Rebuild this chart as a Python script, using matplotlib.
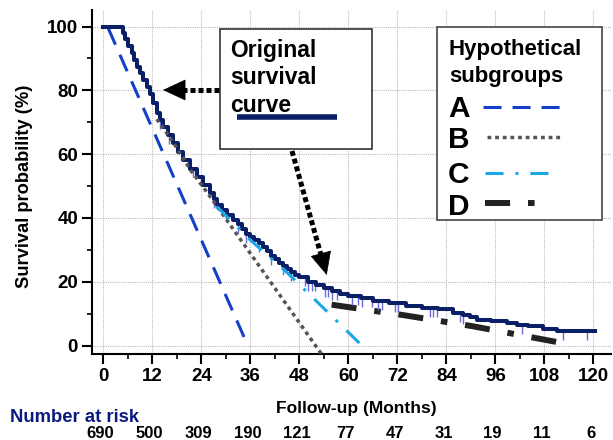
import numpy as np
import matplotlib
matplotlib.use("Agg")
import matplotlib.pyplot as plt
from matplotlib.lines import Line2D
from matplotlib.patches import Rectangle
from matplotlib.transforms import blended_transform_factory

plt.rcParams['font.family'] = ['Liberation Sans', 'DejaVu Sans']
plt.rcParams['font.weight'] = 'bold'

W, H = 613, 440

# Kaplan-Meier curve (months, survival %)
km_t = [0, 4.1, 4.7, 5.3, 6.1, 7, 7.6, 8.2, 9, 9.8, 10.6, 11.4, 12.2, 13.1, 13.9, 14.7,
        15.9, 17.1, 18.3, 19.6, 21.2, 22.9, 24.5, 26.1, 27, 27.8, 29, 30.3, 31.8, 33,
        34, 35, 36, 37, 38, 39, 40, 41, 42, 43, 44, 45, 46, 47, 48, 50, 52, 54, 56,
        58, 60, 63, 66, 70, 74, 78, 82, 85.6, 88, 89.8, 91.5, 95, 98.8, 101.2, 104,
        107.7, 111, 120.5]
km_s = [100, 100, 98, 96, 94, 91.6, 89.5, 87.4, 85.3, 83.2, 81, 79, 76, 72.8, 70.7,
        68.6, 66, 63.4, 60.8, 58.2, 55.5, 52.9, 50.3, 47.7, 45.8, 44, 42.5, 41, 39.5,
        38, 36.5, 35, 34, 33, 32, 30.8, 29.5, 28.2, 27, 26, 25, 24, 23, 22.2, 21.5,
        20, 19, 18, 17, 16.3, 15.5, 14.8, 14, 13.2, 12.5, 11.8, 11.3, 10.2, 9.6, 9,
        8, 7.6, 7.2, 6.5, 6, 5.2, 4.6, 4.6]
censor_t = [14, 16, 18, 19.5, 22, 24, 27, 30, 33, 35, 38, 41, 44, 46, 49.4, 50.2, 51.1,
            51.9, 54.3, 55, 56, 57.3, 61, 62.4, 63.4, 65.8, 67.3, 68.2, 71.4, 72.2, 80,
            80.8, 81.7, 87.4, 88.1, 102.5, 112.6, 118.4]

# hypothetical subgroups
a_t = [1.2, 35.2]
a_s = [99.5, 0.5]
b_t = [13.1, 17.1, 21.2, 26.1, 53.6]
b_s = [71, 63.8, 55.3, 46.8, -3]
c_t = [27.7, 31.8, 35.9, 40.8, 44.5, 63.3]
c_s = [43.6, 38.5, 33.2, 27.6, 23.5, 0]
d_t = [55.9, 73.1, 90.2, 112.7]
d_s = [12.8, 9.6, 6.1, 0.7]

risk_t = [0, 12, 24, 36, 48, 60, 72, 84, 96, 108, 120]
risk_n = [690, 500, 309, 190, 121, 77, 47, 31, 19, 11, 6]

navy = '#0b1f66'
col_a = '#1440c8'
col_b = '#555555'
col_c = '#1aa7e6'
col_d = '#222222'

sty_a = dict(color=col_a, lw=2.2, linestyle=(0, (5.9, 3.6)))
sty_b = dict(color=col_b, lw=2.5, linestyle=(0, (1.1, 1.1)))
sty_c = dict(color=col_c, lw=2.2, linestyle=(0, (5.9, 3.9, 1, 3.9)))
sty_d = dict(color=col_d, lw=4.3, linestyle=(0, (4.2, 3, 1.1, 3)))


def fx(px):
    return px / W


def fy(py):
    return 1 - py / H


fig = plt.figure(figsize=(W / 100, H / 100), dpi=100)
ax = fig.add_axes([fx(92), fy(354), (611 - 92) / W, (354 - 10) / H])
ax.set_xlim(-2.77, 124.3)
ax.set_ylim(-2.66, 105.2)

ax.set_xticks(risk_t)
ax.set_xticks(np.arange(6, 120, 12), minor=True)
ax.set_yticks([0, 20, 40, 60, 80, 100])
ax.set_yticks([10, 30, 50, 70, 90], minor=True)
ax.grid(True, which='major', color='#bbbbbb', lw=0.8, linestyle=(0, (1, 1)))
for s in ['top', 'right']:
    ax.spines[s].set_visible(False)
for s in ['left', 'bottom']:
    ax.spines[s].set_linewidth(1.5)
ax.tick_params(which='major', direction='out', length=7, width=1.5, pad=3, labelsize=13.5)
ax.tick_params(which='minor', direction='out', length=3.5, width=1.2)
for lab in ax.get_xticklabels() + ax.get_yticklabels():
    lab.set_fontweight('bold')

ax.set_ylabel('Survival probability (%)', fontsize=13.2, fontweight='bold')
ax.yaxis.set_label_coords(-(92 - 33) / (611 - 92), 1 - (186 - 10) / (354 - 10))

# curves
ax.plot(d_t, d_s, zorder=3, dash_capstyle='butt', **sty_d)
ax.plot(a_t, a_s, zorder=3, dash_capstyle='butt', **sty_a)
idx = np.searchsorted(km_t, censor_t, side='right') - 1
cs = np.array(km_s)[idx]
ax.vlines(censor_t, cs - 2.8, cs, color='#6b6bd6', lw=1, zorder=4)
ax.plot(km_t, km_s, drawstyle='steps-post', color=navy, lw=2.9, zorder=5)
ax.plot(b_t, b_s, zorder=6, dash_capstyle='butt', **sty_b)
ax.plot(c_t, c_s, zorder=6, dash_capstyle='butt', **sty_c)

# x label and number at risk
fig.text(fx(356), fy(413), 'Follow-up (Months)', ha='center', va='baseline',
         fontsize=12.5, fontweight='bold')
fig.text(fx(10), fy(422), 'Number at risk', ha='left', va='baseline',
         fontsize=13.3, fontweight='bold', color='#0a1a80')
tr = blended_transform_factory(ax.transData, fig.transFigure)
for t, n in zip(risk_t, risk_n):
    fig.text(t - 0.7, fy(438), str(n), transform=tr, ha='center', va='baseline',
             fontsize=12, fontweight='bold')

# "Original survival curve" box
fig.add_artist(Rectangle((fx(220), fy(149)), fx(372) - fx(220), fy(29) - fy(149),
                         transform=fig.transFigure, facecolor='white',
                         edgecolor='#333333', lw=1.2, zorder=2))
for txt, yb in zip(['Original', 'survival', 'curve'], [56.5, 84.5, 111.5]):
    fig.text(fx(230.5), fy(yb), txt, ha='left', va='baseline', fontsize=16.5,
             fontweight='bold', zorder=3)
fig.add_artist(Line2D([fx(237), fx(337)], [fy(117.3)] * 2, transform=fig.transFigure,
                      color=navy, lw=4, solid_capstyle='butt', zorder=3))

# dotted arrows
arrow_ls = (0, (1, 0.6))
fig.add_artist(Line2D([fx(219), fx(183)], [fy(90)] * 2, transform=fig.transFigure,
                      color='black', lw=3.6, linestyle=arrow_ls, dash_capstyle='butt',
                      zorder=3))
ax.annotate('', xy=(fx(163), fy(90)), xytext=(fx(186), fy(90)),
            xycoords='figure fraction', textcoords='figure fraction',
            arrowprops=dict(arrowstyle='-|>,head_length=0.9,head_width=0.42',
                            color='black', lw=0.5, mutation_scale=17,
                            shrinkA=0, shrinkB=0))
fig.add_artist(Line2D([fx(292), fx(321)], [fy(151), fy(255)], transform=fig.transFigure,
                      color='black', lw=3.6, linestyle=arrow_ls, dash_capstyle='butt',
                      zorder=3))
ax.annotate('', xy=(fx(326.7), fy(275)), xytext=(fx(321), fy(254)),
            xycoords='figure fraction', textcoords='figure fraction',
            arrowprops=dict(arrowstyle='-|>,head_length=0.9,head_width=0.42',
                            color='black', lw=0.5, mutation_scale=17,
                            shrinkA=0, shrinkB=0))

# hypothetical subgroups legend
fig.add_artist(Rectangle((fx(437), fy(220)), fx(602) - fx(437), fy(27) - fy(220),
                         transform=fig.transFigure, facecolor='white',
                         edgecolor='#444444', lw=1.2, zorder=2))
fig.text(fx(449), fy(55), 'Hypothetical', ha='left', va='baseline', fontsize=16,
         fontweight='bold', zorder=3)
fig.text(fx(449), fy(81.5), 'subgroups', ha='left', va='baseline', fontsize=16,
         fontweight='bold', zorder=3)
legend_rows = [('A', 116.7, 107.3, 483, 560, sty_a),
               ('B', 148.3, 137.3, 487, 560, sty_b),
               ('C', 182.5, 173.3, 485, 550, sty_c),
               ('D', 214.5, 203.3, 485, 537, sty_d)]
for lab, yb, yl, x0, x1, sty in legend_rows:
    fig.text(fx(448), fy(yb), lab, ha='left', va='baseline', fontsize=21.5,
             fontweight='bold', zorder=3)
    fig.add_artist(Line2D([fx(x0), fx(x1)], [fy(yl)] * 2, transform=fig.transFigure,
                          dash_capstyle='butt', zorder=3, **sty))

fig.savefig('out.png', dpi=100)
